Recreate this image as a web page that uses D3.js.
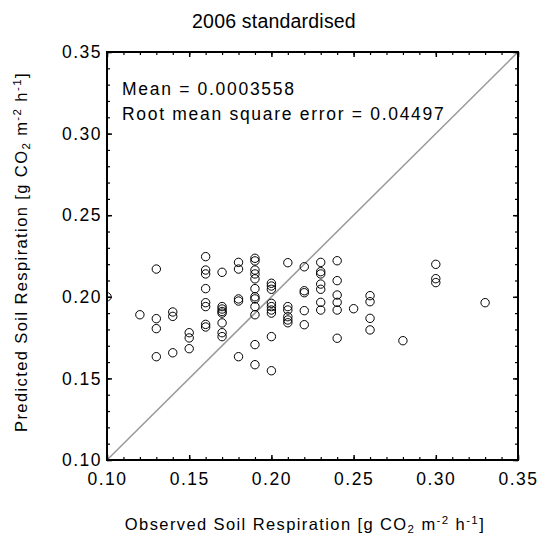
<!DOCTYPE html>
<html><head><meta charset="utf-8">
<script src="https://cdn.jsdelivr.net/npm/d3@7"></script>
<style>body{margin:0;background:#fff}svg{display:block;font-family:"Liberation Sans",Arial,sans-serif}</style>
</head><body><svg id="c" width="544" height="541"></svg>
<script>
const observed = [
 0.10,
 0.12,
 0.13,0.13,0.13,0.13,
 0.14,0.14,0.14,
 0.15,0.15,0.15,
 0.16,0.16,0.16,0.16,0.16,0.16,0.16,0.16,
 0.17,0.17,0.17,0.17,0.17,0.17,0.17,0.17,
 0.18,0.18,0.18,0.18,0.18,
 0.19,0.19,0.19,0.19,0.19,0.19,0.19,0.19,0.19,0.19,0.19,0.19,
 0.20,0.20,0.20,0.20,0.20,0.20,0.20,0.20,0.20,
 0.21,0.21,0.21,0.21,0.21,0.21,
 0.22,0.22,0.22,0.22,0.22,
 0.23,0.23,0.23,0.23,0.23,0.23,0.23,
 0.24,0.24,0.24,0.24,0.24,0.24,
 0.25,
 0.26,0.26,0.26,0.26,
 0.28,
 0.30,0.30,0.30,
 0.33
];
const predicted = [
 0.200,
 0.189,
 0.217,0.1866,0.1805,0.1633,
 0.1907,0.188,0.1657,
 0.178,0.1748,0.1682,
 0.2246,0.2164,0.214,0.205,0.1964,0.194,0.1831,0.1815,
 0.215,0.194,0.1925,0.191,0.19,0.184,0.178,0.1756,
 0.2211,0.217,0.1987,0.1974,0.1633,
 0.2236,0.222,0.2164,0.214,0.211,0.205,0.200,0.1987,0.194,0.189,0.1707,0.1584,
 0.2083,0.2066,0.2046,0.196,0.194,0.1919,0.19,0.1756,0.1547,
 0.2209,0.194,0.1919,0.1878,0.1858,0.1841,
 0.2184,0.2037,0.2025,0.1915,0.1829,
 0.2211,0.2154,0.214,0.2078,0.2046,0.1966,0.1919,
 0.2221,0.2099,0.2011,0.1966,0.1919,0.1746,
 0.1927,
 0.2007,0.197,0.1868,0.1797,
 0.1731,
 0.2199,0.2111,0.2087,
 0.1964
];
const tickValues = [0.10,0.15,0.20,0.25,0.30,0.35];
const minorTicks = d3.range(10,36).map(v=>v/100);
const titleText = "2006 standardised";
const statLines = ["Mean = 0.0003558","Root mean square error = 0.04497"];

const svg = d3.select("#c");
const L=107,R=518,T=52,B=460;
const x = d3.scaleLinear().domain([0.10,0.35]).range([L,R]);
const y = d3.scaleLinear().domain([0.10,0.35]).range([B,T]);
const FF = "Liberation Sans, Arial, sans-serif";

svg.append("defs").append("clipPath").attr("id","clip")
  .append("rect").attr("x",L).attr("y",T).attr("width",R-L).attr("height",B-T);

// 1:1 line
svg.append("line").attr("x1",x(0.10)).attr("y1",y(0.10)).attr("x2",x(0.35)).attr("y2",y(0.35))
  .attr("stroke","#999").attr("stroke-width",1.5);

// points
svg.append("g").attr("clip-path","url(#clip)").selectAll("circle").data(observed).join("circle")
  .attr("cx",(d)=>x(d)).attr("cy",(d,i)=>y(predicted[i])).attr("r",4.2)
  .attr("fill","none").attr("stroke","#000").attr("stroke-width",1);

// axes with inward ticks
const fmt = d3.format(".2f");
function ax(gen, tr, major){
  const g = svg.append("g").attr("transform",tr).call(gen);
  g.select(".domain").remove();
  g.selectAll("line").attr("stroke","#000").attr("stroke-width",major?1.5:1.2);
  return g;
}
ax(d3.axisTop(x).tickValues(tickValues).tickSize(5).tickFormat(""),`translate(0,${B})`,true);
ax(d3.axisTop(x).tickValues(minorTicks).tickSize(3).tickFormat(""),`translate(0,${B})`,false);
ax(d3.axisBottom(x).tickValues(tickValues).tickSize(5).tickFormat(""),`translate(0,${T})`,true);
ax(d3.axisBottom(x).tickValues(minorTicks).tickSize(3).tickFormat(""),`translate(0,${T})`,false);
ax(d3.axisRight(y).tickValues(tickValues).tickSize(5).tickFormat(""),`translate(${L},0)`,true);
ax(d3.axisRight(y).tickValues(minorTicks).tickSize(3).tickFormat(""),`translate(${L},0)`,false);
ax(d3.axisLeft(y).tickValues(tickValues).tickSize(5).tickFormat(""),`translate(${R},0)`,true);
ax(d3.axisLeft(y).tickValues(minorTicks).tickSize(3).tickFormat(""),`translate(${R},0)`,false);

// tick labels
const xl = svg.append("g").attr("transform",`translate(0,${B})`)
  .call(d3.axisBottom(x).tickValues(tickValues).tickSize(0).tickPadding(12.5).tickFormat(fmt));
xl.select(".domain").remove();
xl.selectAll("text").attr("font-size",17.5).attr("letter-spacing",1.5).attr("fill","#000").attr("font-family",FF);
const yl = svg.append("g").attr("transform",`translate(${L},0)`)
  .call(d3.axisLeft(y).tickValues(tickValues).tickSize(0).tickPadding(5).tickFormat(fmt));
yl.select(".domain").remove();
yl.selectAll("text").attr("font-size",17.5).attr("letter-spacing",1.5).attr("fill","#000").attr("font-family",FF);

// frame
svg.append("rect").attr("x",L).attr("y",T).attr("width",R-L).attr("height",B-T)
  .attr("fill","none").attr("stroke","#000").attr("stroke-width",2);

// title
svg.append("text").attr("x",274).attr("y",28).attr("text-anchor","middle")
  .attr("font-size",19.5).attr("letter-spacing",0.2).text(titleText);

// stats
statLines.forEach((s,i)=>{
  svg.append("text").attr("x",122).attr("y",95+i*24.5).attr("font-size",17.5)
    .attr("letter-spacing",1.7).text(s);
});

function sciLabel(sel, main){
  sel.append("tspan").text(main + " [g CO");
  sel.append("tspan").attr("baseline-shift","-25%").attr("font-size",11.5).text("2");
  sel.append("tspan").text(" m");
  sel.append("tspan").attr("baseline-shift","super").attr("font-size",11.5).text("-2");
  sel.append("tspan").text(" h");
  sel.append("tspan").attr("baseline-shift","super").attr("font-size",11.5).text("-1");
  sel.append("tspan").text("]");
}
// x label
const xt = svg.append("text").attr("x",305).attr("y",530).attr("text-anchor","middle")
  .attr("font-size",16.5).attr("letter-spacing",1.4);
sciLabel(xt, "Observed Soil Respiration");

// y label
const yt = svg.append("text").attr("transform","translate(27,252) rotate(-90)").attr("text-anchor","middle")
  .attr("font-size",16.5).attr("letter-spacing",1.4);
sciLabel(yt, "Predicted Soil Respiration");
</script></body></html>
